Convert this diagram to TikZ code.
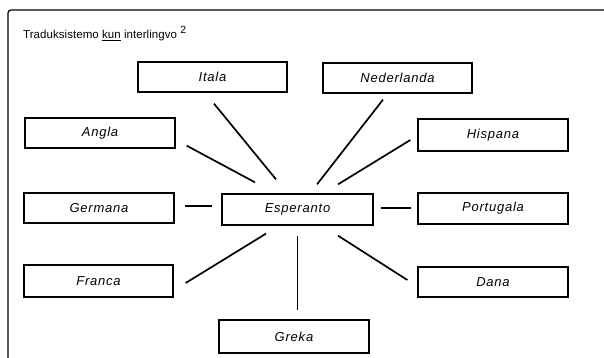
\documentclass[tikz,border=0pt]{standalone}
\usepackage{fontspec}
\setmainfont{Liberation Sans}
\newfontfamily\lblfont[LetterSpace=6]{Liberation Sans}
\newfontfamily\ttlfont[LetterSpace=0.5]{Liberation Sans}
\begin{document}
\begin{tikzpicture}[x=1pt,y=-1pt,
  langbox/.style={draw=black,line width=1.3pt,minimum width=150pt,minimum height=30pt,inner sep=0pt,
    font=\lblfont\itshape\fontsize{13}{15}\selectfont},
  link/.style={draw=black,line width=1.7pt},
  outerline/.style={draw=black,line width=1.2pt,rounded corners=3pt}]
\useasboundingbox (0,0) rectangle (604,358);
\draw[outerline] (8,362) -- (8,10) -- (612,10);
\node[anchor=base west,inner sep=0pt,font=\ttlfont\fontsize{11.5}{13}\selectfont] (title) at (23,38.5)
  {Traduksistemo \underline{kun} interlingvo \raisebox{4.5pt}{\fontsize{10.5}{12}\selectfont 2}};
\node[langbox,minimum width=149pt] (itala) at (212.5,77) {Itala};
\node[langbox] (angla) at (100,133) {Angla};
\node[langbox,minimum width=149pt] (neder) at (397.5,78) {Nederlanda};
\node[langbox,minimum height=32pt] (hisp) at (493,135) {Hispana};
\node[langbox] (germ) at (99,208) {Germana};
\node[langbox,minimum width=151pt,minimum height=31pt] (esp) at (297.5,209.5) {Esperanto};
\node[langbox,minimum height=31pt] (port) at (493,208.5) {Portugala};
\node[langbox,minimum width=149pt,minimum height=32pt] (franca) at (98.5,281) {Franca};
\node[langbox] (dana) at (493,282) {Dana};
\node[langbox,minimum height=33pt] (greka) at (294,336.5) {Greka};
\draw[link] ([shift={(1.5,11)}]itala.south) -- ([shift={(-21.5,-14)}]esp.north);
\draw[link] ([shift={(11,-3)}]angla.south east) -- ([shift={(-42.5,-11)}]esp.north);
\draw[link] ([shift={(-14.5,6)}]neder.south) -- ([shift={(19.5,-9)}]esp.north);
\draw[link] ([shift={(-7,5)}]hisp.west) -- ([shift={(40.5,-9)}]esp.north);
\draw[link] ([shift={(10,-2)}]germ.east) -- ([shift={(-9,-3.5)}]esp.west);
\draw[link] ([shift={(7,-1.5)}]esp.east) -- ([shift={(-6,-0.5)}]port.west);
\draw[link] ([shift={(12,2)}]franca.east) -- ([shift={(-31.5,8)}]esp.south);
\draw[link] ([shift={(0,10)}]esp.south) -- ([shift={(3.5,-9)}]greka.north);
\draw[link] ([shift={(40.5,10)}]esp.south) -- ([shift={(-10,-2)}]dana.west);
\end{tikzpicture}
\end{document}
